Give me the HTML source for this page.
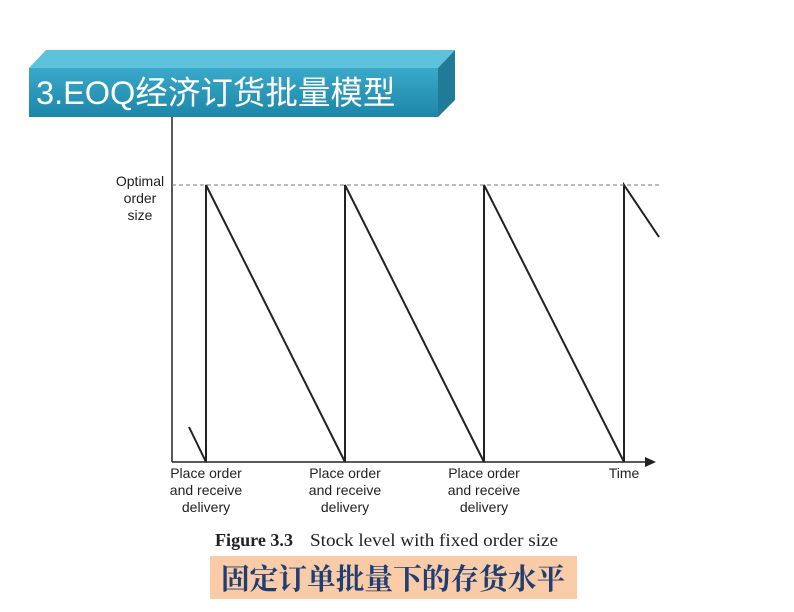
<!DOCTYPE html>
<html><head><meta charset="utf-8"><style>
body{margin:0;width:794px;height:612px;background:#fff;position:relative;overflow:hidden;font-family:"Liberation Sans",Arial,sans-serif}
.t{position:absolute;font-size:14px;color:#222;text-align:center;line-height:17px}
</style></head><body>
<svg width="794" height="612" style="position:absolute;left:0;top:0">
<defs>
<linearGradient id="g" x1="0" y1="0" x2="0" y2="1"><stop offset="0" stop-color="#3aa9c9"/><stop offset="1" stop-color="#1d86a8"/></linearGradient>
</defs>
<polygon points="29,68 46,50 455,50 438,68" fill="#5ec2dc"/>
<polygon points="438,68 455,50 455,100 438,117" fill="#1f7b97"/>
<rect x="29" y="68" width="409" height="49" fill="url(#g)"/>
<text x="36" y="104" font-family="Liberation Sans,Noto Sans CJK SC,sans-serif" font-size="32.5" fill="#fff">3.EOQ经济订货批量模型</text>
<g stroke="#222" stroke-width="1.5" fill="none">
<line x1="172" y1="117" x2="172" y2="462"/>
<line x1="172" y1="462" x2="648" y2="462"/>
<polyline points="189,427 206,462 206,185 345,462 345,185 484,462 484,185 624,462 624,185 659,237" stroke-width="2"/>
</g>
<polygon points="656,462 645,457 645,467" fill="#222"/>
<line x1="172" y1="185" x2="660" y2="185" stroke="#777" stroke-dasharray="4,3"/>
<rect x="210" y="556" width="367" height="43" fill="#f9cba6"/>
<text x="215" y="546" font-family="Liberation Serif,serif" font-size="17.5" font-weight="bold" fill="#222" textLength="78" lengthAdjust="spacingAndGlyphs">Figure 3.3</text>
<text x="310" y="546" font-family="Liberation Serif,serif" font-size="17.5" fill="#222" textLength="248" lengthAdjust="spacingAndGlyphs">Stock level with fixed order size</text>
<text x="221" y="589" font-family="Liberation Serif,Noto Serif CJK SC,serif" font-size="28.7" font-weight="bold" fill="#1f3f74">固定订单批量下的存货水平</text>
</svg>
<div class="t" style="left:100px;top:173px;width:80px">Optimal<br>order<br>size</div>
<div class="t" style="left:146px;top:465px;width:120px">Place order<br>and receive<br>delivery</div>
<div class="t" style="left:285px;top:465px;width:120px">Place order<br>and receive<br>delivery</div>
<div class="t" style="left:424px;top:465px;width:120px">Place order<br>and receive<br>delivery</div>
<div class="t" style="left:594px;top:465px;width:60px">Time</div>
</body></html>
